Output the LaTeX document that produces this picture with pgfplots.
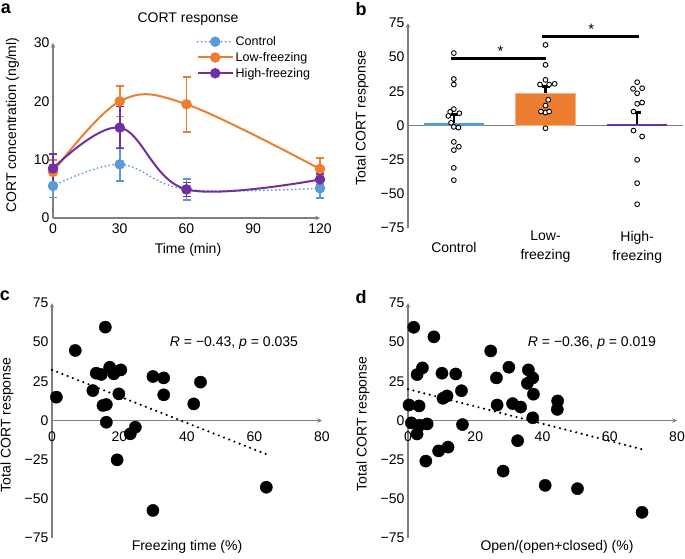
\documentclass[border=0pt]{standalone}
\usepackage{pgfplots}
\pgfplotsset{compat=1.18}
\usepackage{fontspec}
\setmainfont{Liberation Sans}
\definecolor{cblue}{HTML}{5B9BD5}
\definecolor{corange}{HTML}{ED7D31}
\definecolor{cpurple}{HTML}{7030A0}
\definecolor{axgray}{HTML}{7F7F7F}
\newcommand{\fs}{\fontsize{14pt}{17pt}\selectfont}
\pgfplotsset{
  common/.style={
    scale only axis, anchor=south west, clip=false,
    major tick length=0pt,
    axis line style={-, draw=axgray, line width=1.1pt},
    tick label style={font=\fs},
    /pgf/number format/assume math mode=true,
  },
  ebar/.style={error bars/.cd, y dir=both, y explicit,
    error bar style={solid, line width=1.8pt},
    error mark options={solid, rotate=90, mark size=4pt, line width=1.8pt}},
}
\begin{document}
\begin{tikzpicture}[x=1pt,y=1pt,font=\fs]
\path[use as bounding box] (0pt,0pt) rectangle (685pt,558pt);

% ---------------- panel a
\begin{axis}[common, at={(53pt,340pt)}, width=267pt, height=175pt,
  xmin=0, xmax=120, ymin=0, ymax=30, axis lines=left,
  xtick={0,30,60,90,120}, ytick={0,10,20,30},
  xticklabel style={yshift=-2pt},
  legend cell align=left,
  legend style={at={(axis cs:64.5,31.5)}, anchor=north west, draw=none, fill=none,
    font=\fontsize{12.5pt}{14pt}\selectfont, inner sep=0pt, row sep=1.2pt,
    /tikz/every even column/.append style={column sep=3pt}},
  legend image code/.code={\draw[mark repeat=2,mark phase=2,#1] plot coordinates {(0pt,0pt) (17.5pt,0pt) (35pt,0pt)};},
]
\addplot[cblue, line width=2pt, smooth, tension=0.6, dash pattern=on 0pt off 4pt, line cap=round,
  mark=*, mark size=4.2pt, mark options={solid, fill=cblue, draw=cblue}, ebar]
  coordinates {(0,5.5) +- (0,2.0) (30,9.2) +- (0,2.9) (60,4.9) +- (0,1.8) (120,5.1) +- (0,1.7)};
\addlegendentry{Control}
\addplot[corange, line width=2pt, smooth, tension=0.6,
  mark=*, mark size=4.2pt, mark options={solid, fill=corange, draw=corange}, ebar]
  coordinates {(0,7.9) +- (0,2.0) (30,20.0) +- (0,2.6) (60,19.5) +- (0,4.7) (120,8.4) +- (0,1.9)};
\addlegendentry{Low-freezing}
\addplot[cpurple, line width=2pt, smooth, tension=0.6,
  mark=*, mark size=4.2pt, mark options={solid, fill=cpurple, draw=cpurple}, ebar]
  coordinates {(0,8.5) +- (0,2.5) (30,15.5) +- (0,3.6) (60,4.9) +- (0,1.2) (120,6.6) +- (0,0.9)};
\addlegendentry{High-freezing}
\end{axis}

% ---------------- panel b
\begin{axis}[common, at={(408pt,330pt)}, width=275pt, height=205pt,
  xmin=-0.5, xmax=2.5, ymin=-75, ymax=75,
  axis y line=left, axis x line*=bottom, x axis line style={draw=none},
  xtick={0,1,2}, xticklabels={Control,{Low-\\freezing},{High-\\freezing}},
  xticklabel style={align=center, anchor=center, yshift=-19pt, font=\fontsize{14pt}{19pt}\selectfont},
  ytick={-75,-50,-25,0,25,50,75}, yticklabels={−75,−50,−25,0,25,50,75},
]
\addplot[axgray, line width=1.1pt] coordinates {(-0.5,0) (2.5,0)};
\addplot[ybar, bar width=0.66, bar shift=0pt, fill=cblue, draw=none,
  error bars/.cd, y dir=plus, y explicit, error bar style={black, line width=2.5pt},
  error mark options={black, rotate=90, mark size=4pt, line width=2.5pt}]
  coordinates {(0,1.7) +- (0,6.3)};
\addplot[ybar, bar width=0.66, bar shift=0pt, fill=corange, draw=corange!60!white, line width=0.8pt,
  error bars/.cd, y dir=plus, y explicit, error bar style={black, line width=2.5pt},
  error mark options={black, rotate=90, mark size=4pt, line width=2.5pt}]
  coordinates {(1,23.6) +- (0,4.9)};
\addplot[ybar, bar width=0.66, bar shift=0pt, fill=cpurple, draw=none,
  error bars/.cd, y dir=plus, y explicit, error bar style={black, line width=2.5pt},
  error mark options={black, rotate=90, mark size=4pt, line width=2.5pt}]
  coordinates {(2,1.0) +- (0,8.5)};
\addplot[only marks, mark=*, mark size=2.4pt, mark options={fill=white, draw=black, line width=0.9pt}]
  coordinates {(0,53) (0,34) (0,30) (0,12) (-0.04,10) (0.06,9) (-0.06,7) (-0.03,2) (0,-1) (0.05,-1.5)
   (0,-12) (0.055,-15.5) (0,-18) (0,-31) (0,-40)
   (1,59) (1,44.4) (1,33.4) (0.94,30) (1.04,30) (1.1,30.5) (1.03,18.8) (1,14.6) (0.95,10.2) (1,9.5) (1.04,10.2) (1,-2)
   (2,31.7) (1.955,26.9) (2.054,27.3) (2,23.6) (2,15.9) (2.054,16.8) (1.96,10.2) (1.96,-3.7) (2.054,-8) (2,-25.1) (2,-42.2) (2,-57.6)};
\addplot[black, line width=3pt] coordinates {(-0.03,49.3) (1.01,49.3)};
\addplot[black, line width=3pt] coordinates {(0.96,65.1) (2.02,65.1)};
\node[font=\fontsize{15pt}{17pt}\selectfont] at (axis cs:0.51,54.5) {*};
\node[font=\fontsize{15pt}{17pt}\selectfont] at (axis cs:1.5,70.3) {*};
\end{axis}

% ---------------- panel c
\begin{axis}[common, at={(52pt,20pt)}, width=270pt, height=235pt,
  xmin=0, xmax=80, ymin=-75, ymax=75,
  axis x line=middle, axis y line=left,
  xtick={0,20,40,60,80}, xticklabels={0,20,40,60,80},
  xticklabel style={yshift=-8pt},
  ytick={-75,-50,-25,0,25,50,75}, yticklabels={−75,−50,−25,0,25,50,75},
]
\addplot[only marks, mark=*, mark size=6.1pt, black]
  coordinates {(1.3,14.9) (6.9,44.7) (15.8,59.6) (13.1,30.2) (14.6,29.4) (12.1,19.1) (17.1,34) (18.3,29.8)
   (20.4,32.3) (19.8,17) (15.1,9.6) (16.1,10.2) (16.1,-1.1) (19.3,-25.1) (23.2,-8.5) (24.7,-4.3)
   (29.9,28.1) (33.1,27.2) (33.1,16.4) (29.9,-57.4) (42,10.6) (44,24.5) (63.5,-42.6)};
\addplot[black, line width=2.4pt, line cap=round, dash pattern=on 0pt off 5.6pt]
  coordinates {(0,32.3) (63.5,-21.5)};
\node[anchor=north, font=\fs, yshift=-8pt] at (axis cs:0,0) {0};
\end{axis}

% ---------------- panel d
\begin{axis}[common, at={(408pt,20pt)}, width=269pt, height=235pt,
  xmin=0, xmax=80, ymin=-75, ymax=75,
  axis x line=middle, axis y line=left,
  xtick={0,20,40,60,80}, xticklabels={0,20,40,60,80},
  xticklabel style={yshift=-8pt},
  ytick={-75,-50,-25,0,25,50,75}, yticklabels={−75,−50,−25,0,25,50,75},
]
\addplot[only marks, mark=*, mark size=6.1pt, black]
  coordinates {(1.7,59.5) (7.7,53.4) (0.3,9.9) (1,-1.5) (3.3,9.3) (2.7,29.3) (4.3,33.6) (2.7,-8.6)
   (3.5,-3) (5.7,-2.2) (5.3,-25.9) (10.1,30.2) (10.4,14.2) (11.6,15.7) (14.2,29.7) (15.9,19) (16.2,-2.6)
   (9.1,-19.4) (11.9,-17) (24.6,44.4) (26.3,27.2) (26.5,9.9) (30,34) (31.1,10.8) (33.5,8.6) (32.6,-12.9)
   (28.3,-32.3) (35.8,32.3) (35.5,23.7) (37.1,27.2) (37.3,16.8) (37.1,1.7) (40.8,-41.4) (44.5,12.5)
   (44.4,7.1) (50.4,-43.5) (69.6,-58.6)};
\addplot[black, line width=2.4pt, line cap=round, dash pattern=on 0pt off 5.6pt]
  coordinates {(0,20) (69.5,-18.3)};
\node[anchor=north, font=\fs, yshift=-8pt] at (axis cs:0,0) {0};
\end{axis}

% ---------------- text
\node[font=\fontsize{18pt}{20pt}\selectfont\bfseries] at (6pt,549pt) {a};
\node[font=\fontsize{18pt}{20pt}\selectfont\bfseries] at (361pt,549pt) {b};
\node[font=\fontsize{18pt}{20pt}\selectfont\bfseries] at (5pt,262pt) {c};
\node[font=\fontsize{18pt}{20pt}\selectfont\bfseries] at (361pt,261pt) {d};
\node at (188pt,539pt) {CORT response};
\node[rotate=90] at (12.5pt,433pt) {CORT concentration (ng/ml)};
\node at (188pt,308pt) {Time (min)};
\node[rotate=90] at (362pt,440pt) {Total CORT response};
\node[rotate=90] at (7pt,133pt) {Total CORT response};
\node at (187pt,11pt) {Freezing time (\%)};
\node at (234pt,215pt) {\textit{R} = −0.43, \textit{p} = 0.035};
\node[rotate=90] at (363pt,134pt) {Total CORT response};
\node at (557pt,11pt) {Open/(open+closed) (\%)};
\node at (592pt,215pt) {\textit{R} = −0.36, \textit{p} = 0.019};
\end{tikzpicture}
\end{document}
